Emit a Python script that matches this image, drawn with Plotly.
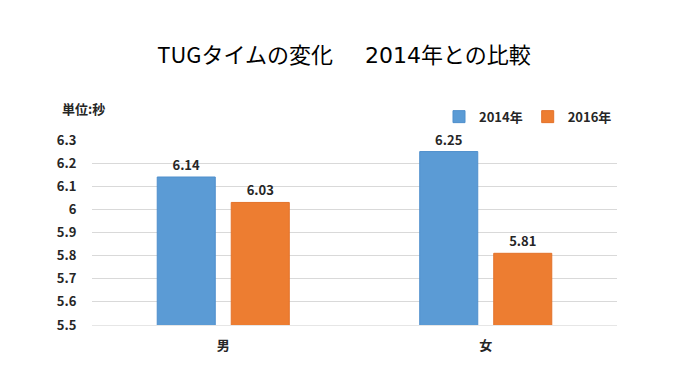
import plotly.graph_objects as go

categories = ["男", "女"]
values_2014 = [6.14, 6.25]
values_2016 = [6.03, 5.81]
series_names = ["2014年", "2016年"]
y_ticks = [5.5, 5.6, 5.7, 5.8, 5.9, 6.0, 6.1, 6.2, 6.3]
y_tick_text = ["5.5", "5.6", "5.7", "5.8", "5.9", "6", "6.1", "6.2", "6.3"]

FONT = "Noto Sans CJK JP"
BLUE = "#5B9BD5"
ORANGE = "#ED7D31"
BLUE_EDGE = "#4F8FCC"
ORANGE_EDGE = "#E3722A"

fig = go.Figure()
for name, vals, col, edge in [(series_names[0], values_2014, BLUE, BLUE_EDGE),
                              (series_names[1], values_2016, ORANGE, ORANGE_EDGE)]:
    fig.add_trace(go.Bar(
        x=categories, y=vals, name=name,
        marker=dict(color=col, line=dict(color=edge, width=1)),
        text=[f"{v:.2f}" for v in vals], textposition="outside",
        textfont=dict(family=FONT, size=13, color="#262626", weight="bold"),
        cliponaxis=False,
    ))

title_text = ("TUGタイムの変化　&nbsp;&nbsp;"
              "<span style='font-family:DejaVu Sans'>2014</span>年との比較")

# page body has an 8px margin; compensate so the figure sits like the reference
fig.update_layout(
    width=672, height=375,
    paper_bgcolor="white", plot_bgcolor="white",
    margin=dict(l=84, r=63, t=132, b=58),
    barmode="group", bargap=0.436, bargroupgap=0.216,
    title=dict(text=title_text, x=0.5, xanchor="center",
               y=0.875, yanchor="middle",
               font=dict(family=FONT, size=22, color="#000000")),
    showlegend=True,
    legend=dict(orientation="h", x=1.0, xanchor="right", y=1.045, yanchor="bottom",
                font=dict(family=FONT, size=13, color="#262626", weight="bold"),
                itemwidth=30, traceorder="normal", bgcolor="rgba(0,0,0,0)"),
    xaxis=dict(showgrid=False, showline=True, linecolor="#E6E6E6", linewidth=1,
               tickfont=dict(family=FONT, size=13, color="#262626", weight="bold"),
               ticks="outside", ticklen=8, tickcolor="rgba(0,0,0,0)"),
    yaxis=dict(range=[5.5, 6.3], tickvals=y_ticks, ticktext=y_tick_text,
               showgrid=True, gridcolor="#D9D9D9", gridwidth=1, zeroline=False,
               showline=False,
               tickfont=dict(family=FONT, size=13, color="#262626", weight="bold"),
               ticks="outside", ticklen=12, tickcolor="rgba(0,0,0,0)"),
    annotations=[dict(text="単位:秒", xref="paper", yref="paper", x=-0.017, y=1.17,
                      xanchor="center", yanchor="middle", showarrow=False,
                      font=dict(family=FONT, size=13, color="#262626", weight="bold"))],
)

fig.write_html("out.html")
